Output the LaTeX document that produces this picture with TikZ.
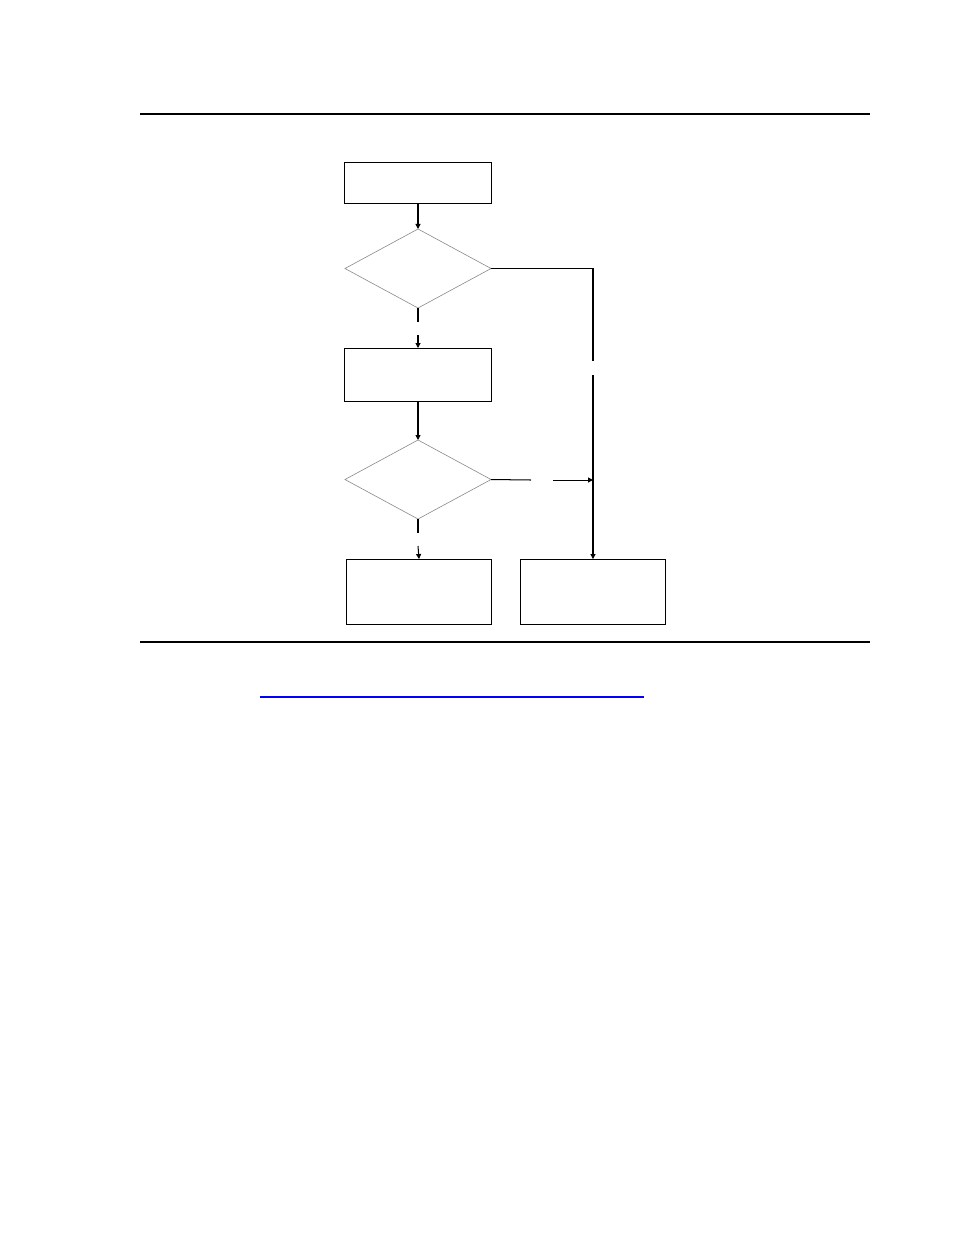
\documentclass[tikz,border=0pt]{standalone}
\usepackage{tikz}
\usetikzlibrary{positioning, calc, shapes.geometric, arrows.meta}

\begin{document}
\begin{tikzpicture}[x=0.6415pt, y=-0.6415pt, >={Triangle[length=3.2pt, width=3.2pt]}, line width=0.65pt]
        % Define colors
        \definecolor{diamondgray}{rgb}{0.55, 0.55, 0.55}
        \definecolor{linkblue}{rgb}{0.0, 0.0, 1.0}

        \useasboundingbox (0,0) rectangle (954,1235);

        % Rules
        \draw[line width=1.3pt] (140,114) -- (870,114);
        \draw[line width=0.9pt] (140,642) -- (870,642);
        \draw[linkblue, line width=0.7pt] (260,697) -- (644,697);

        % Nodes
        \node[draw, rectangle, inner sep=0pt, outer sep=0pt, minimum width=93.7pt, minimum height=25.7pt] (start) at (418,183) {};
        \node[draw=diamondgray, diamond, line width=0.4pt, inner sep=0pt, outer sep=0pt, minimum width=93.7pt, minimum height=50.7pt] (check1) at (418,268.5) {};
        \node[draw, rectangle, inner sep=0pt, outer sep=0pt, minimum width=93.7pt, minimum height=34pt] (step1) at (418,374.5) {};
        \node[draw=diamondgray, diamond, line width=0.4pt, inner sep=0pt, outer sep=0pt, minimum width=93.7pt, minimum height=50.7pt] (check2) at (418,479.5) {};
        \node[draw, rectangle, inner sep=0pt, outer sep=0pt, minimum width=93.1pt, minimum height=42.3pt] (result1) at (419,592) {};
        \node[draw, rectangle, inner sep=0pt, outer sep=0pt, minimum width=93.1pt, minimum height=42.3pt] (result2) at (593,592) {};

        % Gap points
        \coordinate (gap1a) at (418,322);
        \coordinate (gap1b) at (418,335);
        \coordinate (gap2a) at (593,361);
        \coordinate (gap2b) at (593,375);
        \coordinate (gap3a) at (418,533);
        \coordinate (gap3b) at (418,546);
        \coordinate (gap4a) at (531,480);
        \coordinate (gap4b) at (553,480);
        \coordinate (join) at (593,480);

        % Edges
        \draw[->] (start) -- (check1);
        \draw (check1.south) -- (gap1a);
        \draw[->] (gap1b) -- (step1.north);
        \draw (check1.east) -| (gap2a);
        \draw[->] (gap2b) -- (result2.north);
        \draw[->] (step1) -- (check2);
        \draw (check2.south) -- (gap3a);
        \draw[->] (gap3b) -- (result1.north);
        \draw (check2.east) -- (gap4a);
        \draw[->] (gap4b) -- (join);
    \end{tikzpicture}
\end{document}
